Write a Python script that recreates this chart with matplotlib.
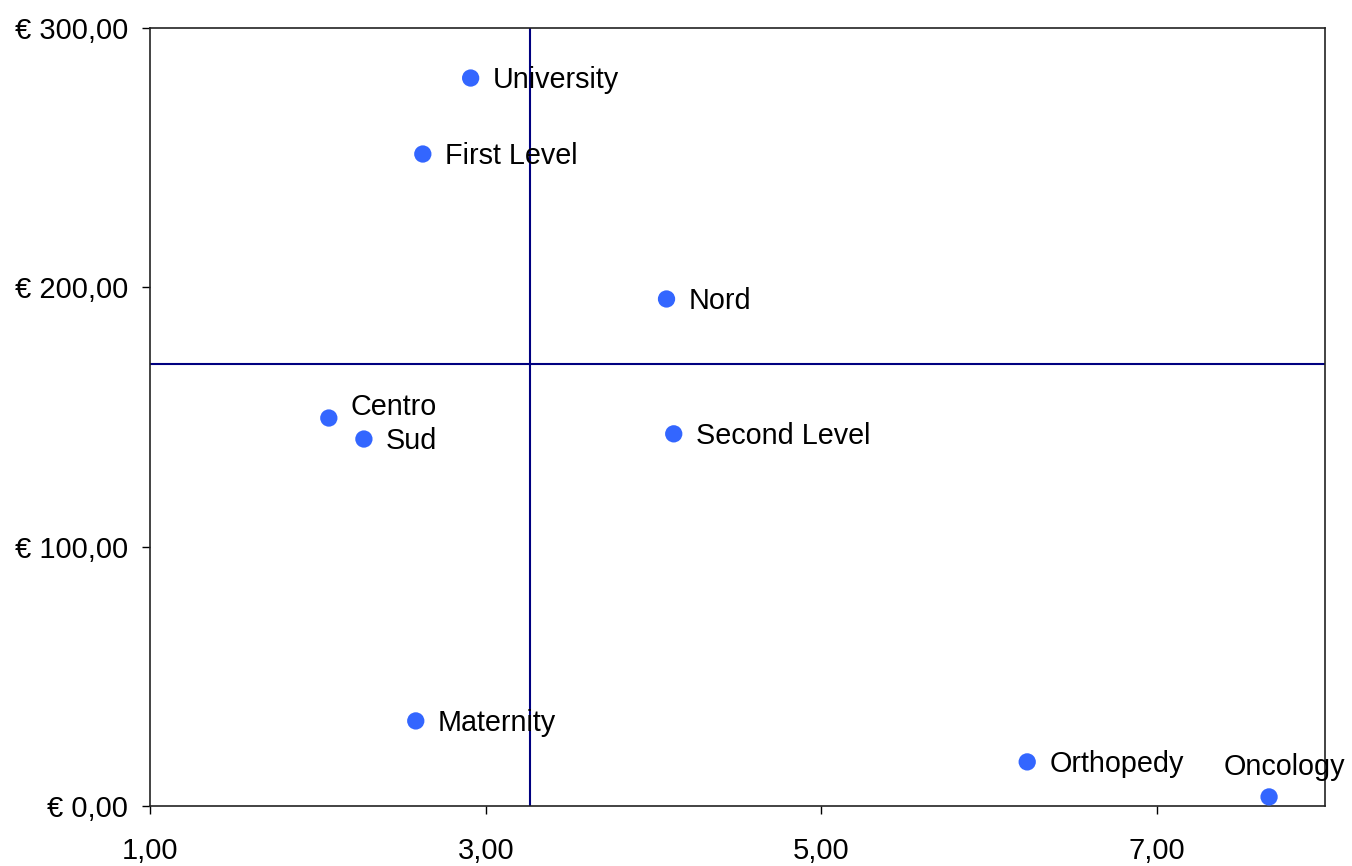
import matplotlib
matplotlib.use("Agg")
import matplotlib.pyplot as plt
from matplotlib.ticker import FuncFormatter

plt.rcParams["font.family"] = ["Liberation Sans", "DejaVu Sans"]

names = ["University", "First Level", "Nord", "Centro", "Sud", "Second Level",
         "Maternity", "Orthopedy", "Oncology"]
x_vals = [2.91, 2.625, 4.077, 2.065, 2.274, 4.12, 2.583, 6.226, 7.667]
y_vals = [280.7, 251.4, 195.5, 149.6, 141.5, 143.5, 32.8, 17.0, 3.5]
x_ref = 3.262
y_ref = 170.5

# label offsets in pixels (dx, dy, ha)
offsets = {"Centro": (22, 11, "left"), "Oncology": (15, 30, "center")}

fig = plt.figure(figsize=(13.52, 8.66), dpi=100)
ax = fig.add_axes([0.111, 0.0693, 0.869, 0.8984])

ax.axvline(x_ref, color="#000080", lw=1.5, zorder=1)
ax.axhline(y_ref, color="#000080", lw=1.5, zorder=1)
ax.scatter(x_vals, y_vals, s=155, color="#3366FF", zorder=3, edgecolors="none")

for n, xv, yv in zip(names, x_vals, y_vals):
    dx, dy, ha = offsets.get(n, (22, -2, "left"))
    ax.annotate(n, (xv, yv), xytext=(dx, dy), textcoords="offset pixels",
                ha=ha, va="center", fontsize=20.7)

ax.set_xlim(1, 8)
ax.set_ylim(0, 300)
ax.set_xticks([1, 3, 5, 7])
ax.set_yticks([0, 100, 200, 300])
ax.xaxis.set_major_formatter(FuncFormatter(lambda v, p: f"{v:.2f}".replace(".", ",")))
ax.yaxis.set_major_formatter(FuncFormatter(lambda v, p: "€ " + f"{v:.2f}".replace(".", ",")))
ax.tick_params(direction="out", length=6, width=1, labelsize=21)
ax.tick_params(axis="x", pad=16)
ax.tick_params(axis="y", pad=10)
for s in ax.spines.values():
    s.set_linewidth(1.2)
    s.set_color("#222222")

fig.savefig("out.png", dpi=100)
